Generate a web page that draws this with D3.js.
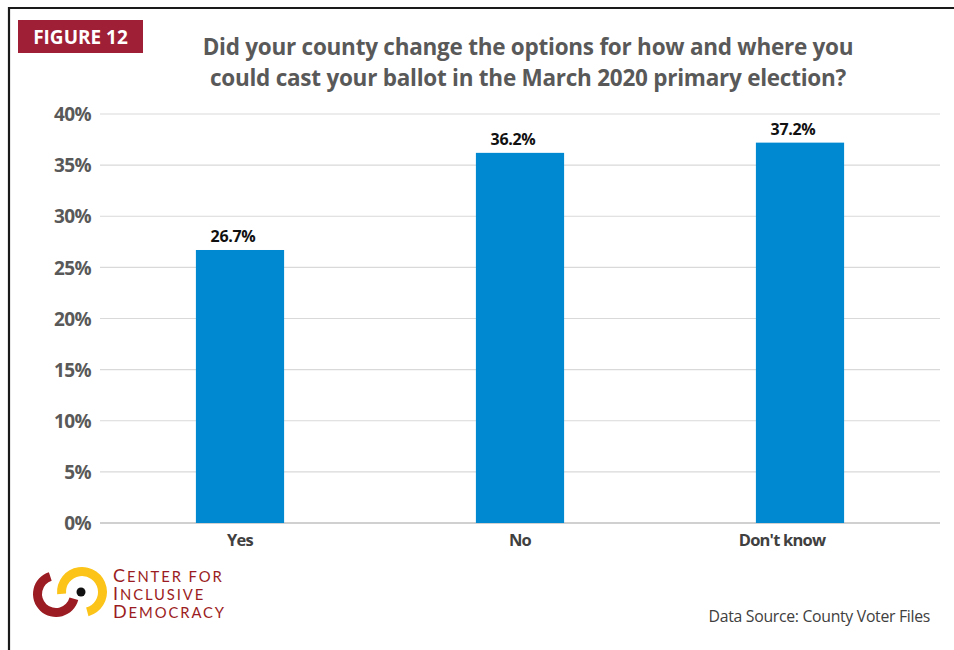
<!DOCTYPE html>
<html><head><meta charset="utf-8">
<script src="https://cdn.jsdelivr.net/npm/d3@7"></script>
<style>
html,body{margin:0;padding:0;background:#fff;}
svg{display:block;}
</style></head>
<body>
<svg id="chart" width="954" height="650"></svg>
<script>
const categories = ["Yes", "No", "Don't know"];
const values = [26.7, 36.2, 37.2];
const valueLabels = ["26.7%", "36.2%", "37.2%"];
const yTicks = [0, 5, 10, 15, 20, 25, 30, 35, 40];
const titleLines = ["Did your county change the options for how and where you", "could cast your ballot in the March 2020 primary election?"];
const logoLines = ["Center for", "Inclusive", "Democracy"];

const svg = d3.select("#chart");
const W = 954, H = 650;
const FONT = "'Open Sans', sans-serif";

// frame
svg.append("rect").attr("x",0).attr("y",0).attr("width",W).attr("height",H).attr("fill","#fff");
svg.append("path").attr("d","M9,650 V8 H954").attr("fill","none").attr("stroke","#1a1a1a").attr("stroke-width",2.2);

// Figure badge
svg.append("rect").attr("x",18).attr("y",20).attr("width",125).attr("height",33).attr("fill","#9e1f36");
svg.append("text").attr("x",80.5).attr("y",43.5).attr("text-anchor","middle")
  .attr("font-family",FONT).attr("font-weight",700).attr("font-size",19)
  .attr("fill","#fff").text("FIGURE 12");

// Title
svg.append("g").selectAll("text").data(titleLines).join("text")
  .attr("x",528).attr("y",(d,i)=>55+i*31).attr("text-anchor","middle")
  .attr("font-family",FONT).attr("font-weight",700).attr("font-size",22.5)
  .attr("letter-spacing",-0.25)
  .attr("fill","#595959").text(d=>d);

// Scales
const x = d3.scaleBand().domain(categories).range([100, 940]).padding(0);
const y = d3.scaleLinear().domain([0, 40]).range([523, 114]);
const barW = x.bandwidth()*0.315;

// gridlines
svg.append("g").selectAll("line").data(yTicks).join("line")
  .attr("x1",100).attr("x2",940).attr("y1",d=>y(d)).attr("y2",d=>y(d))
  .attr("stroke",d=>d===0?"#d0d0d0":"#d9d9d9").attr("stroke-width",d=>d===0?1.8:1.2);

// y axis labels
const yAxis = d3.axisLeft(y).tickValues(yTicks).tickFormat(d=>d+"%").tickSize(0).tickPadding(0);
const ya = svg.append("g").attr("transform","translate(91,0)").call(yAxis);
ya.select(".domain").remove();
ya.selectAll("text").attr("font-family",FONT).attr("font-weight",700)
  .attr("font-size",19).attr("fill","#595959").attr("dy","0.35em").attr("letter-spacing",-0.6);

// bars
svg.append("g").selectAll("rect").data(values).join("rect")
  .attr("x",(d,i)=>x(categories[i])+x.bandwidth()/2-barW/2)
  .attr("y",d=>y(d)).attr("width",barW).attr("height",d=>y(0)-y(d))
  .attr("fill","#0088d1");

// value labels (slightly left of bar centre, as in the reference)
svg.append("g").selectAll("text").data(values).join("text")
  .attr("x",(d,i)=>x(categories[i])+x.bandwidth()/2-7).attr("y",d=>y(d)-8)
  .attr("text-anchor","middle").attr("font-family",FONT).attr("font-weight",700)
  .attr("font-size",16).attr("letter-spacing",-0.3).attr("fill","#111").text((d,i)=>valueLabels[i]);

// x axis labels
const xAxis = d3.axisBottom(x).tickSize(0).tickPadding(0);
const xa = svg.append("g").attr("transform","translate(0,523)").call(xAxis);
xa.select(".domain").remove();
xa.selectAll("text").attr("font-family",FONT).attr("font-weight",700)
  .attr("font-size",16.5).attr("fill","#404040").attr("dy","1.4em").attr("letter-spacing",-0.8)
  .attr("dx",(d,i)=>i===categories.length-1?-18:0);

// logo
const logo = svg.append("g");
const redArc = d3.arc().innerRadius(14).outerRadius(23).startAngle(105*Math.PI/180).endAngle(342*Math.PI/180);
logo.append("path").attr("transform","translate(56,594)").attr("d",redArc()).attr("fill","#9b1c22");
const yelArc = d3.arc().innerRadius(16).outerRadius(25).startAngle(-95*Math.PI/180).endAngle(165*Math.PI/180);
logo.append("path").attr("transform","translate(82,592)").attr("d",yelArc()).attr("fill","#fcc419");
logo.append("circle").attr("cx",81).attr("cy",592).attr("r",4.5).attr("fill","#111");
const lt = logo.selectAll("text").data(logoLines).join("text")
  .attr("x",113).attr("y",(d,i)=>582+i*18)
  .attr("font-family","Lato, sans-serif").attr("font-weight",400)
  .attr("fill","#9b1c22").attr("letter-spacing",1.9);
lt.each(function(d){
  const t = d3.select(this);
  t.append("tspan").attr("font-size",18).text(d[0].toUpperCase());
  t.append("tspan").attr("font-size",14.8).text(d.slice(1).toUpperCase());
});

// source
svg.append("text").attr("x",930).attr("y",622).attr("text-anchor","end")
  .attr("font-family",FONT).attr("font-size",15.8).attr("fill","#404040")
  .attr("letter-spacing",-0.3)
  .text("Data Source: County Voter Files");
</script>
</body></html>
